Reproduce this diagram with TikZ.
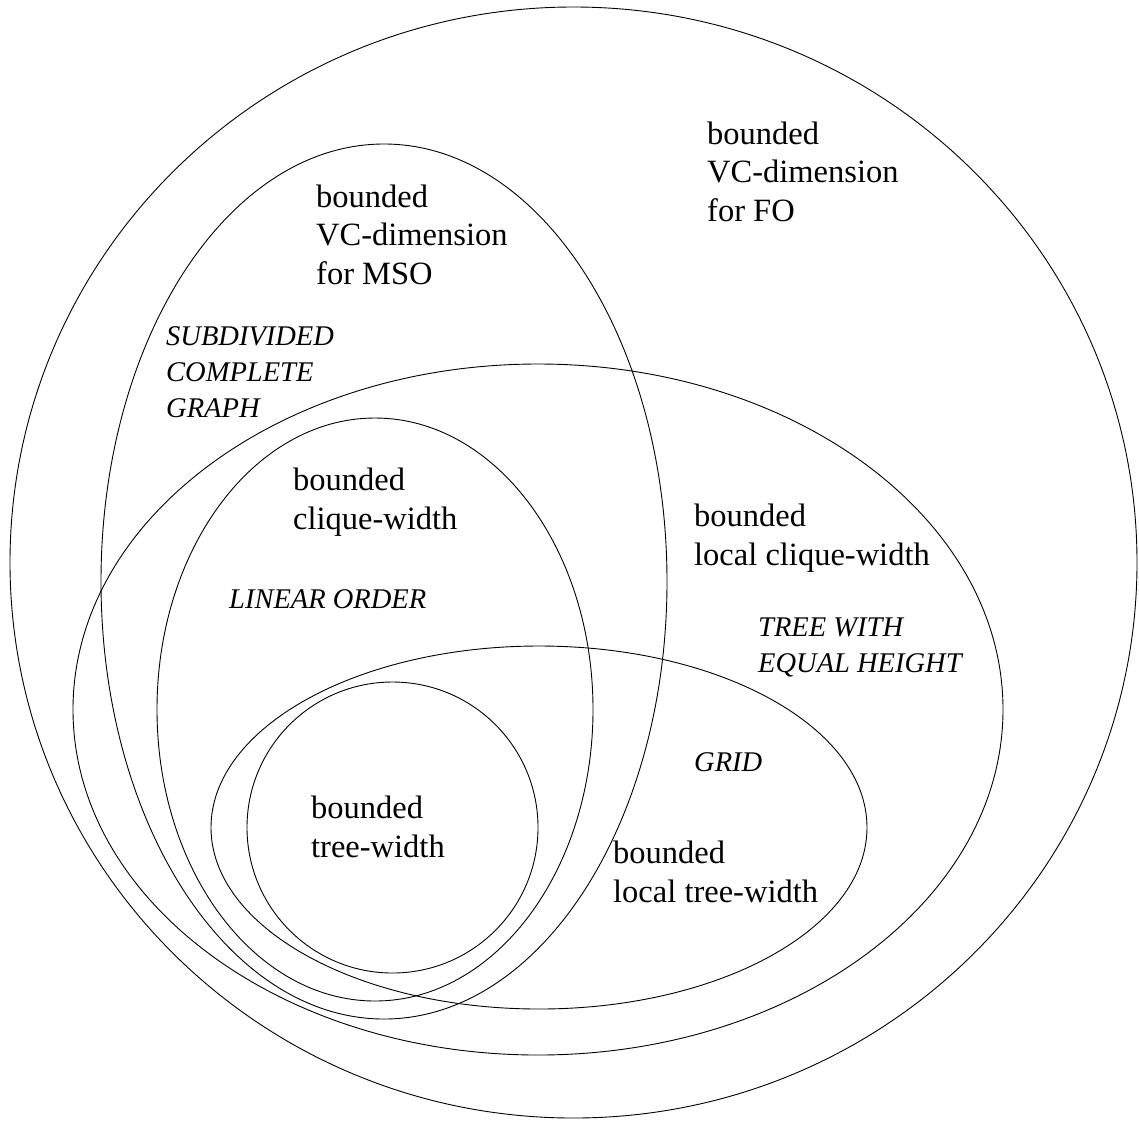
\documentclass[tikz,border=0pt]{standalone}
\usepackage{fontspec}
\setmainfont{Liberation Serif}
\tikzset{
  setline/.style={draw=black, line width=0.9pt},
  lab/.style={anchor=base west, align=left, inner sep=0pt, font=\fontsize{32.5}{38.5}\selectfont},
  ex/.style={anchor=base west, align=left, inner sep=0pt, font=\fontsize{28.5}{36}\selectfont\itshape},
}
\begin{document}
\begin{tikzpicture}[x=1pt,y=-1pt]
\useasboundingbox (0,0) rectangle (1139,1120);
% sets
\draw[setline] (573.5,562.5) ellipse [x radius=563.5pt, y radius=555.5pt];
\draw[setline] (384,581.5) ellipse [x radius=283pt, y radius=437.5pt];
\draw[setline] (538,709.5) ellipse [x radius=465pt, y radius=345.5pt];
\draw[setline] (375,709.5) ellipse [x radius=218pt, y radius=291.5pt];
\draw[setline] (539,827.5) ellipse [x radius=328pt, y radius=181.5pt];
\draw[setline] (392.5,827.5) circle [radius=145.5pt];
% labels (anchored at the baseline of the last line)
\node[lab] (fo) at (707,221) {bounded\\VC-dimension\\for FO};
\node[lab] (mso) at (316,284) {bounded\\VC-dimension\\for MSO};
\node[ex] (scg) at (166,417) {SUBDIVIDED\\COMPLETE\\GRAPH};
\node[lab] (cw) at (293,529) {bounded\\clique-width};
\node[ex] (lo) at (229,608) {LINEAR ORDER};
\node[lab] (lcw) at (694,565) {bounded\\local clique-width};
\node[ex] (tree) at (758,672) {TREE WITH\\EQUAL HEIGHT};
\node[ex] (grid) at (694,771) {GRID};
\node[lab] (tw) at (311,857) {bounded\\tree-width};
\node[lab] (ltw) at (613,902) {bounded\\local tree-width};
\end{tikzpicture}
\end{document}
